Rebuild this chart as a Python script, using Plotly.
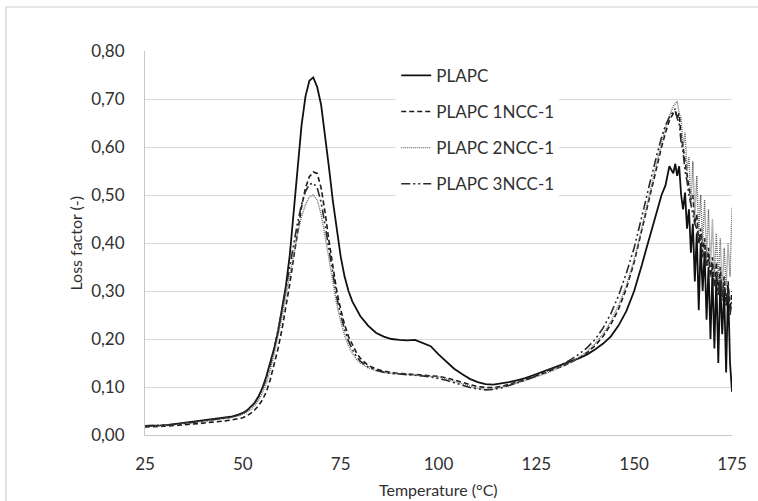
import plotly.graph_objects as go

# Temperature grid (°C) shared by all four samples
temps = [25, 27, 29, 31, 33, 35, 37, 39, 41, 43, 45, 47, 49,
         50, 51, 52, 53, 54, 55, 56, 57, 58, 59, 60, 61, 62, 63, 64, 65, 66, 67, 68, 69, 70,
         71, 72, 73, 74, 75, 76, 77, 78, 79, 80,
         82, 84, 86, 88, 90, 92, 94, 96, 98, 100, 102, 104, 106, 108, 110, 112, 114, 116, 118,
         120, 122, 124, 126, 128, 130, 132, 134, 136, 138, 140, 142, 144, 146, 148, 150,
         151, 152, 153, 154, 155, 156, 157, 158, 159, 160,
         160.5, 161, 161.5, 162, 162.5, 163, 163.5, 164, 164.5, 165, 165.5, 166, 166.5, 167, 167.5,
         168, 168.5, 169, 169.5, 170, 170.5, 171, 171.5, 172, 172.5, 173, 173.5, 174, 174.5, 175]

# Loss factor (-)
plapc = [0.019, 0.019, 0.020, 0.021, 0.023, 0.025, 0.027, 0.029, 0.031, 0.033, 0.035, 0.038, 0.043,
         0.046, 0.051, 0.058, 0.067, 0.080, 0.098, 0.122, 0.150, 0.180, 0.215, 0.260, 0.310, 0.375, 0.460, 0.560, 0.645, 0.705, 0.738, 0.745, 0.725, 0.688,
         0.628, 0.558, 0.488, 0.424, 0.372, 0.330, 0.300, 0.278, 0.262, 0.248,
         0.228, 0.213, 0.205, 0.200, 0.198, 0.197, 0.198, 0.192, 0.185, 0.168, 0.152, 0.138, 0.127, 0.117, 0.110, 0.106, 0.105, 0.107, 0.110,
         0.114, 0.118, 0.124, 0.130, 0.136, 0.142, 0.148, 0.154, 0.160, 0.168, 0.178, 0.190, 0.205, 0.228, 0.258, 0.300,
         0.325, 0.355, 0.385, 0.415, 0.445, 0.475, 0.500, 0.520, 0.560, 0.545,
         0.565, 0.540, 0.560, 0.500, 0.470, 0.505, 0.430, 0.470, 0.380, 0.440, 0.320, 0.420, 0.260, 0.400, 0.300,
         0.380, 0.240, 0.350, 0.200, 0.340, 0.180, 0.330, 0.150, 0.320, 0.210, 0.300, 0.130, 0.310, 0.150, 0.090]

plapc_1ncc = [0.017, 0.017, 0.018, 0.019, 0.020, 0.021, 0.023, 0.024, 0.026, 0.027, 0.029, 0.031, 0.034,
              0.036, 0.040, 0.045, 0.052, 0.061, 0.073, 0.090, 0.115, 0.145, 0.180, 0.220, 0.265, 0.315, 0.370, 0.425, 0.475, 0.515, 0.538, 0.548, 0.545, 0.515,
              0.465, 0.405, 0.350, 0.300, 0.262, 0.230, 0.205, 0.187, 0.172, 0.160,
              0.145, 0.138, 0.133, 0.130, 0.128, 0.127, 0.126, 0.125, 0.124, 0.122, 0.119, 0.115, 0.110, 0.105, 0.101, 0.099, 0.099, 0.101, 0.105,
              0.110, 0.115, 0.120, 0.126, 0.132, 0.138, 0.144, 0.152, 0.161, 0.172, 0.186, 0.205, 0.230, 0.262, 0.305, 0.360,
              0.395, 0.430, 0.465, 0.500, 0.535, 0.570, 0.600, 0.630, 0.655, 0.670,
              0.675, 0.660, 0.670, 0.620, 0.600, 0.570, 0.540, 0.520, 0.490, 0.500, 0.440, 0.460, 0.400, 0.430, 0.380,
              0.410, 0.350, 0.390, 0.330, 0.370, 0.310, 0.360, 0.300, 0.350, 0.290, 0.330, 0.270, 0.320, 0.260, 0.300]

plapc_2ncc = [0.018, 0.018, 0.019, 0.020, 0.022, 0.023, 0.025, 0.027, 0.029, 0.031, 0.033, 0.036, 0.040,
              0.043, 0.047, 0.053, 0.061, 0.072, 0.088, 0.108, 0.135, 0.168, 0.205, 0.245, 0.290, 0.335, 0.380, 0.420, 0.455, 0.480, 0.496, 0.500, 0.490, 0.460,
              0.415, 0.365, 0.315, 0.272, 0.237, 0.208, 0.186, 0.170, 0.158, 0.150,
              0.140, 0.134, 0.130, 0.128, 0.127, 0.126, 0.125, 0.124, 0.123, 0.121, 0.117, 0.112, 0.106, 0.101, 0.097, 0.095, 0.096, 0.099, 0.103,
              0.108, 0.113, 0.118, 0.124, 0.130, 0.137, 0.144, 0.152, 0.162, 0.174, 0.190, 0.210, 0.236, 0.270, 0.312, 0.365,
              0.398, 0.432, 0.468, 0.503, 0.540, 0.575, 0.610, 0.640, 0.665, 0.685,
              0.690, 0.695, 0.670, 0.660, 0.600, 0.630, 0.550, 0.580, 0.480, 0.570, 0.450, 0.540, 0.420, 0.500, 0.400,
              0.490, 0.370, 0.470, 0.350, 0.450, 0.330, 0.420, 0.320, 0.410, 0.300, 0.390, 0.310, 0.400, 0.330, 0.475]

plapc_3ncc = [0.019, 0.019, 0.020, 0.021, 0.022, 0.024, 0.026, 0.028, 0.030, 0.032, 0.034, 0.037, 0.042,
              0.045, 0.050, 0.057, 0.066, 0.079, 0.096, 0.118, 0.146, 0.180, 0.218, 0.260, 0.305, 0.352, 0.400, 0.443, 0.480, 0.507, 0.522, 0.525, 0.515, 0.485,
              0.438, 0.385, 0.333, 0.287, 0.250, 0.220, 0.196, 0.178, 0.164, 0.154,
              0.142, 0.135, 0.131, 0.128, 0.127, 0.126, 0.125, 0.123, 0.121, 0.118, 0.114, 0.109, 0.104, 0.099, 0.096, 0.094, 0.095, 0.098, 0.103,
              0.108, 0.114, 0.120, 0.127, 0.134, 0.141, 0.149, 0.158, 0.169, 0.182, 0.199, 0.222, 0.252, 0.290, 0.337, 0.390,
              0.422, 0.456, 0.490, 0.525, 0.560, 0.590, 0.620, 0.645, 0.662, 0.675,
              0.680, 0.660, 0.650, 0.610, 0.590, 0.550, 0.530, 0.500, 0.480, 0.460, 0.440, 0.430, 0.400, 0.410, 0.370,
              0.390, 0.350, 0.370, 0.330, 0.350, 0.310, 0.340, 0.290, 0.330, 0.280, 0.320, 0.270, 0.310, 0.250, 0.280]

series_names = ["PLAPC", "PLAPC 1NCC-1", "PLAPC 2NCC-1", "PLAPC 3NCC-1"]
x_ticks = [25, 50, 75, 100, 125, 150, 175]
y_ticks = [0.0, 0.1, 0.2, 0.3, 0.4, 0.5, 0.6, 0.7, 0.8]
x_title = "Temperature (°C)"
y_title = "Loss factor (-)"

styles = [
    dict(color="#111111", width=1.8, dash="solid"),
    dict(color="#1a1a1a", width=1.6, dash="5px,3px"),
    dict(color="#6a6a6a", width=1.4, dash="1px,1px"),
    dict(color="#2a2a2a", width=1.6, dash="9px,3px,2px,3px,2px,3px"),
]

fig = go.Figure()
for i, (name, vals) in enumerate(zip(series_names, [plapc, plapc_1ncc, plapc_2ncc, plapc_3ncc])):
    fig.add_trace(go.Scatter(x=temps, y=vals, mode="lines", name=name,
                             legendgroup=f"g{i}", line=styles[i]))

FONT = "Lato"
GRID = "#d9d9d9"
TEXT = "#303030"

fig.update_layout(
    width=758, height=501,
    margin=dict(l=145, r=26, t=51, b=66),
    paper_bgcolor="white", plot_bgcolor="white",
    separators=", ",
    font=dict(family=FONT, size=16, color=TEXT),
    showlegend=True,
    legend=dict(x=0.428, y=0.982, xanchor="left", yanchor="top",
                bgcolor="white", borderwidth=0, tracegroupgap=11,
                font=dict(family=FONT, size=17, color=TEXT),
                itemwidth=30),
    xaxis=dict(range=[25, 175], tickvals=x_ticks, showgrid=False,
               showline=True, linecolor="#c8c8c8", linewidth=1,
               ticks="outside", ticklen=14, tickcolor="rgba(0,0,0,0)",
               zeroline=False, tickfont=dict(size=17), automargin=False),
    yaxis=dict(range=[0, 0.8], tickvals=y_ticks, tickformat=".2f",
               showgrid=True, gridcolor=GRID, gridwidth=1,
               showline=True, linecolor="#c8c8c8", linewidth=1,
               ticks="outside", ticklen=16, tickcolor="rgba(0,0,0,0)",
               zeroline=False, tickfont=dict(size=17), automargin=False),
    annotations=[
        dict(text=x_title, xref="paper", yref="paper", x=0.5, y=-0.143,
             xanchor="center", yanchor="middle", showarrow=False,
             font=dict(family=FONT, size=16, color=TEXT)),
        dict(text=y_title, xref="paper", yref="paper", x=-0.12, y=0.5,
             xanchor="center", yanchor="middle", showarrow=False, textangle=-90,
             font=dict(family=FONT, size=16, color=TEXT)),
    ],
    shapes=[dict(type="rect", xref="paper", yref="paper",
                 x0=-0.237, x1=1.2, y0=-0.3, y1=1.1146,
                 line=dict(color="#cfcfcf", width=1.2), layer="below")],
)

fig.write_html("out.html", config={"displayModeBar": False})
